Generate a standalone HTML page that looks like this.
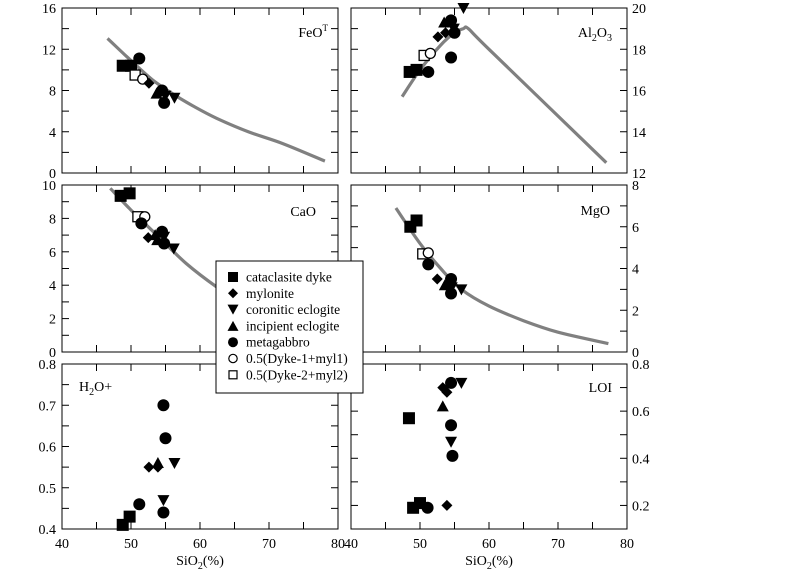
<!DOCTYPE html>
<html><head><meta charset="utf-8"><style>
html,body{margin:0;padding:0;background:#fff;}
svg{display:block;font-family:"Liberation Serif",serif;}
</style></head><body>
<svg id="c" width="800" height="572" viewBox="0 0 800 572"></svg>
<script>
// ---- data ----
const xDomain = [40, 80];
const xTicks = [40, 50, 60, 70, 80];
const feoX = [48.8,50.0,50.6,51.7,51.2,52.6,53.7,54.5,55.0,56.3,54.8];
const feoY = [10.4,10.4,9.5,9.1,11.1,8.7,7.7,8.0,7.5,7.3,6.8];
const feoT = ['sq','sq','os','oc','ci','di','ut','ci','dt','dt','ci'];
const feoCurveX = [46.6,50,53,56,59,62.4,67,72,78.1];
const feoCurveY = [13.05,10.9,9.1,7.7,6.5,5.3,4.0,2.85,1.15];

const alX = [48.5,49.5,50.6,51.5,51.2,52.6,53.7,53.5,54.5,55.0,54.5,56.3,54.9];
const alY = [16.9,17.0,17.7,17.8,16.9,18.6,18.8,19.3,19.4,18.8,17.6,20.0,19.0];
const alT = ['sq','sq','os','oc','ci','di','di','ut','ci','ci','ci','dt','dt'];
const alCurveX = [47.4,50,53,55,56.3,57,60,77];
const alCurveY = [15.7,17.0,18.2,18.8,19.0,19.0,18.0,12.5];

const caoX = [48.5,49.8,51.0,52.0,51.5,52.5,53.5,53.8,54.5,54.8,56.2,54.8];
const caoY = [9.35,9.5,8.1,8.1,7.7,6.85,7.0,6.7,7.2,6.5,6.2,6.9];
const caoT = ['sq','sq','os','oc','ci','di','ut','ut','ci','ci','dt','dt'];
const caoCurveX = [47.0,50,54,58,62.4,68,74,78];
const caoCurveY = [9.8,8.5,6.9,5.3,3.9,2.4,1.2,0.5];

const mgoX = [48.6,49.5,50.4,51.2,51.2,52.5,53.6,54.5,54.5,56.0,54.6];
const mgoY = [6.0,6.3,4.7,4.75,4.2,3.5,3.2,3.5,2.8,3.0,3.1];
const mgoT = ['sq','sq','os','oc','ci','di','ut','ci','ci','dt','dt'];
const mgoCurveX = [46.5,50,53,56,60,65,70,77.3];
const mgoCurveY = [6.9,5.2,4.0,3.0,2.2,1.5,0.95,0.4];

const h2oX = [48.8,49.8,51.2,54.7,55.0,54.7,52.6,53.9,53.9,56.3,54.7];
const h2oY = [0.41,0.43,0.46,0.70,0.62,0.44,0.55,0.55,0.56,0.56,0.47];
const h2oT = ['sq','sq','ci','ci','ci','ci','di','di','ut','dt','dt'];

const loiX = [48.4,49.0,50.0,51.1,53.9,54.5,54.7,54.5,54.5,56.0,53.3,53.9,53.3];
const loiY = [0.57,0.19,0.21,0.19,0.20,0.54,0.41,0.72,0.47,0.72,0.70,0.68,0.62];
const loiT = ['sq','sq','sq','ci','di','ci','ci','ci','dt','dt','di','di','ut'];

const legendLabels = ['cataclasite dyke','mylonite','coronitic eclogite','incipient eclogite','metagabbro','0.5(Dyke-1+myl1)','0.5(Dyke-2+myl2)'];
const legendTypes = ['sq','di','dt','ut','ci','oc','os'];

// ---- drawing ----
const NS='http://www.w3.org/2000/svg';
const svg=document.getElementById('c');
function el(tag,attrs,parent){const e=document.createElementNS(NS,tag);for(const k in attrs)e.setAttribute(k,attrs[k]);(parent||svg).appendChild(e);return e;}

function smoothPath(P){
  let d='M'+P[0][0].toFixed(1)+','+P[0][1].toFixed(1);
  for(let i=0;i<P.length-1;i++){
    const p0=P[i-1]||P[i],p1=P[i],p2=P[i+1],p3=P[i+2]||p2;
    const c1=[p1[0]+(p2[0]-p0[0])/6,p1[1]+(p2[1]-p0[1])/6];
    const c2=[p2[0]-(p3[0]-p1[0])/6,p2[1]-(p3[1]-p1[1])/6];
    d+=` C${c1[0].toFixed(1)},${c1[1].toFixed(1)} ${c2[0].toFixed(1)},${c2[1].toFixed(1)} ${p2[0].toFixed(1)},${p2[1].toFixed(1)}`;
  }
  return d;
}

function marker(g,type,cx,cy){
  let e;
  if(type==='sq'){e=el('rect',{x:cx-6,y:cy-6,width:12,height:12,fill:'#000'},g);}
  else if(type==='os'){e=el('rect',{x:cx-5,y:cy-5,width:10,height:10,fill:'#fff',stroke:'#000','stroke-width':1.3},g);}
  else if(type==='ci'){e=el('circle',{cx:cx,cy:cy,r:6,fill:'#000'},g);}
  else if(type==='oc'){e=el('circle',{cx:cx,cy:cy,r:5,fill:'#fff',stroke:'#000','stroke-width':1.3},g);}
  else if(type==='di'){e=el('polygon',{points:`${cx},${cy-5.5} ${cx+5.5},${cy} ${cx},${cy+5.5} ${cx-5.5},${cy}`,fill:'#000'},g);}
  else if(type==='dt'){e=el('polygon',{points:`${cx-6},${cy-5} ${cx+6},${cy-5} ${cx},${cy+6}`,fill:'#000'},g);}
  else {e=el('polygon',{points:`${cx-6},${cy+5} ${cx+6},${cy+5} ${cx},${cy-6}`,fill:'#000'},g);}
  return e;
}

function panel(opt){
  const g=el('g',{});
  
  
  const L=opt.x0,R=opt.x0+276,T=opt.y0,B=opt.y1;
  const sx=v=>L+(v-xDomain[0])/(xDomain[1]-xDomain[0])*(R-L);
  const sy=v=>B-(v-opt.ymin)/(opt.ymax-opt.ymin)*(B-T);
  if(opt.cx){
    const pts=opt.cx.map((x,i)=>[sx(x),sy(opt.cy[i])]);
    const p=el('path',{d:smoothPath(pts),fill:'none',stroke:'#808080','stroke-width':3.2,'stroke-linejoin':'round'},g);
    
    
  }
  const f=el('rect',{x:L,y:T,width:R-L,height:B-T,fill:'none',stroke:'#000','stroke-width':1},g);
  
  
  for(let v=45;v<80;v+=5){
    const X=sx(v);
    el('line',{x1:X,y1:T,x2:X,y2:T+7,stroke:'#000'},g);
    el('line',{x1:X,y1:B,x2:X,y2:B-7,stroke:'#000'},g);
  }
  for(let v=opt.ymin+opt.minor;v<opt.ymax-1e-9;v+=opt.minor){
    const Y=sy(v);
    el('line',{x1:L,y1:Y,x2:L+7,y2:Y,stroke:'#000'},g);
    el('line',{x1:R,y1:Y,x2:R-7,y2:Y,stroke:'#000'},g);
  }
  opt.labels.forEach(v=>{
    const t=el('text',{x:opt.side==='left'?L-6:R+5,y:sy(v)+5,'font-size':14,'text-anchor':opt.side==='left'?'end':'start'},g);
    t.textContent=opt.fmt?opt.fmt(v):String(v);
    
    
  });
  opt.px.forEach((x,i)=>{
    const m=marker(g,opt.pt[i],sx(x),sy(opt.py[i]));
    
    
  });
  const tt=el('text',{x:opt.tx,y:opt.ty,'font-size':14,'text-anchor':opt.ta||'end'},g);
  tt.innerHTML=opt.title;
  
  
  if(opt.xlabels){
    xTicks.forEach(v=>{
      const t=el('text',{x:sx(v),y:B+19,'font-size':14,'text-anchor':'middle'},g);
      t.textContent=String(v);
      
      
    });
    const xl=el('text',{x:(L+R)/2,y:B+36,'font-size':14,'text-anchor':'middle'},g);
    xl.innerHTML='SiO<tspan font-size="10" dy="4">2</tspan><tspan dy="-4">(%)</tspan>';
    
    
  }
}
const f1=v=>v.toFixed(1);
panel({name:'feo',x0:62,y0:8,y1:173,ymin:0,ymax:16,minor:2,labels:[0,4,8,12,16],side:'left',px:feoX,py:feoY,pt:feoT,cx:feoCurveX,cy:feoCurveY,title:'FeO<tspan font-size="9" dy="-6">T</tspan>',tx:328,ty:37});
panel({name:'al2o3',x0:351,y0:8,y1:173,ymin:12,ymax:20,minor:1,labels:[12,14,16,18,20],side:'right',px:alX,py:alY,pt:alT,cx:alCurveX,cy:alCurveY,title:'Al<tspan font-size="10" dy="4">2</tspan><tspan dy="-4">O</tspan><tspan font-size="10" dy="4">3</tspan>',tx:612,ty:37});
panel({name:'cao',x0:62,y0:185,y1:352,ymin:0,ymax:10,minor:1,labels:[0,2,4,6,8,10],side:'left',px:caoX,py:caoY,pt:caoT,cx:caoCurveX,cy:caoCurveY,title:'CaO',tx:316,ty:216});
panel({name:'mgo',x0:351,y0:185,y1:352,ymin:0,ymax:8,minor:1,labels:[0,2,4,6,8],side:'right',px:mgoX,py:mgoY,pt:mgoT,cx:mgoCurveX,cy:mgoCurveY,title:'MgO',tx:610,ty:215});
panel({name:'h2o',x0:62,y0:364,y1:529,ymin:0.4,ymax:0.8,minor:0.05,labels:[0.4,0.5,0.6,0.7,0.8],fmt:f1,side:'left',px:h2oX,py:h2oY,pt:h2oT,title:'H<tspan font-size="10" dy="4">2</tspan><tspan dy="-4">O+</tspan>',tx:79,ty:391,ta:'start',xlabels:true});
panel({name:'loi',x0:351,y0:364,y1:529,ymin:0.1,ymax:0.8,minor:0.1,labels:[0.2,0.4,0.6,0.8],fmt:f1,side:'right',px:loiX,py:loiY,pt:loiT,title:'LOI',tx:612,ty:392,xlabels:true});

const lg=el('g',{});


el('rect',{x:216,y:261,width:147,height:132,fill:'#fff',stroke:'#000','stroke-width':1},lg);
legendLabels.forEach((lab,i)=>{
  const y=277+i*16.3;
  const eg=el('g',{},lg);
  
  
  const t=legendTypes[i];
  if(t==='sq')el('rect',{x:228,y:y-5,width:10,height:10,fill:'#000'},eg);
  else if(t==='os')el('rect',{x:229,y:y-4,width:8,height:8,fill:'#fff',stroke:'#000','stroke-width':1.2},eg);
  else if(t==='oc')el('circle',{cx:233,cy:y,r:4.2,fill:'#fff',stroke:'#000','stroke-width':1.2},eg);
  else if(t==='ci')el('circle',{cx:233,cy:y,r:5,fill:'#000'},eg);
  else if(t==='di')el('polygon',{points:`233,${y-5} 238,${y} 233,${y+5} 228,${y}`,fill:'#000'},eg);
  else if(t==='dt')el('polygon',{points:`227.5,${y-5} 238.5,${y-5} 233,${y+5}`,fill:'#000'},eg);
  else el('polygon',{points:`227.5,${y+5} 238.5,${y+5} 233,${y-5}`,fill:'#000'},eg);
  const tx=el('text',{x:246,y:y+4.5,'font-size':13.5},eg);
  tx.textContent=lab;
});
</script>
</body></html>
